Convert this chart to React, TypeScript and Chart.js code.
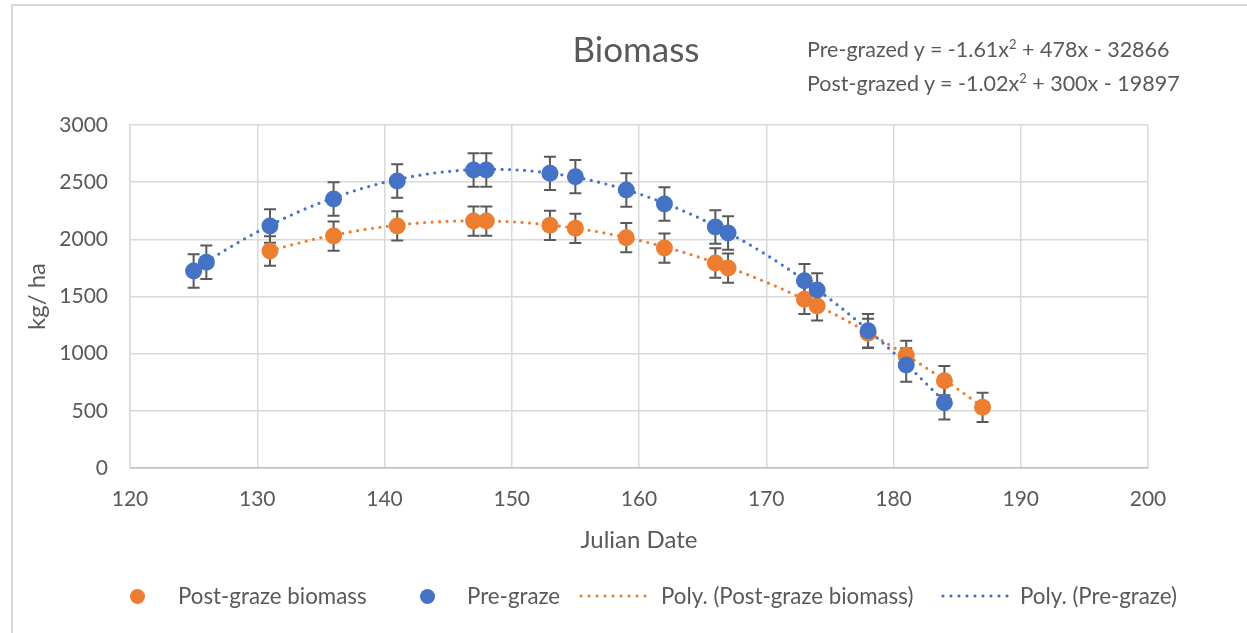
import { useEffect, useRef } from 'react';
import { Chart, registerables } from 'chart.js';
Chart.register(...registerables);

const preDates = [125, 126, 131, 136, 141, 147, 148, 153, 155, 159, 162, 166, 167, 173, 174, 178, 181, 184];
const preBiomass = [1723, 1799, 2117, 2353, 2510, 2606, 2606, 2577, 2548, 2431, 2309, 2108, 2055, 1638, 1557, 1201, 901, 571];
const preError = [146, 146, 146, 146, 146, 146, 146, 146, 146, 146, 146, 146, 146, 146, 146, 146, 146, 146];

const postDates = [131, 136, 141, 147, 148, 153, 155, 159, 162, 166, 167, 173, 174, 178, 181, 184, 187];
const postBiomass = [1898, 2029, 2117, 2160, 2160, 2123, 2096, 2014, 1924, 1793, 1749, 1475, 1417, 1178, 986, 764, 531];
const postError = [128, 128, 128, 128, 128, 128, 128, 128, 128, 128, 128, 128, 128, 128, 128, 128, 128];

// trendline coefficients as printed on the chart: a*x^2 + b*x + c
const preCoef = [-1.61, 478, -32866];
const postCoef = [-1.02, 300, -19897];

const xMin = 120, xMax = 200, xStep = 10;
const yMin = 0, yMax = 3000, yStep = 500;

const BLUE = '#4472C4';
const ORANGE = '#ED7D31';
const TEXT = '#595959';
const FONT = 'Lato, "Open Sans", sans-serif';

function trend(coef: number[], from: number, to: number) {
  const pts: { x: number; y: number }[] = [];
  for (let x = from; x <= to + 1e-9; x += 0.25) {
    pts.push({ x, y: coef[0] * x * x + coef[1] * x + coef[2] });
  }
  return pts;
}

const errorBarPlugin = {
  id: 'errorBars',
  beforeDatasetsDraw(chart: any) {
    const { ctx, scales } = chart;
    const xs = scales.x, ys = scales.y;
    ctx.save();
    ctx.strokeStyle = '#595959';
    ctx.lineWidth = 2;
    const groups: [number[], number[], number[]][] = [
      [postDates, postBiomass, postError],
      [preDates, preBiomass, preError],
    ];
    groups.forEach(([d, v, e]) => {
      d.forEach((dx, i) => {
        const px = xs.getPixelForValue(dx);
        const top = ys.getPixelForValue(v[i] + e[i]);
        const bot = ys.getPixelForValue(v[i] - e[i]);
        ctx.beginPath();
        ctx.moveTo(px, top);
        ctx.lineTo(px, bot);
        ctx.moveTo(px - 6, top);
        ctx.lineTo(px + 6, top);
        ctx.moveTo(px - 6, bot);
        ctx.lineTo(px + 6, bot);
        ctx.stroke();
      });
    });
    ctx.restore();
  },
};

function DotLine({ color }: { color: string }) {
  return (
    <svg width="78" height="10" style={{ display: 'block' }}>
      <line x1="3" y1="5" x2="75" y2="5" stroke={color} strokeWidth="3.2" strokeLinecap="round" strokeDasharray="0 8" />
    </svg>
  );
}

export default function App() {
  const ref = useRef<HTMLCanvasElement | null>(null);

  useEffect(() => {
    if (!ref.current) return;
    const chart = new Chart(ref.current, {
      type: 'scatter',
      data: {
        datasets: [
          {
            label: 'Pre-graze',
            data: preDates.map((x, i) => ({ x, y: preBiomass[i] })),
            backgroundColor: BLUE,
            borderColor: BLUE,
            pointRadius: 8.5,
            pointBorderWidth: 0,
            order: 1,
          },
          {
            label: 'Post-graze biomass',
            data: postDates.map((x, i) => ({ x, y: postBiomass[i] })),
            backgroundColor: ORANGE,
            borderColor: ORANGE,
            pointRadius: 8.5,
            pointBorderWidth: 0,
            order: 2,
          },
          {
            label: 'Poly. (Pre-graze)',
            data: trend(preCoef, preDates[0], preDates[preDates.length - 1]),
            showLine: true,
            borderColor: BLUE,
            borderWidth: 3.2,
            borderDash: [0, 7.5],
            borderCapStyle: 'round',
            pointRadius: 0,
            order: 3,
          },
          {
            label: 'Poly. (Post-graze biomass)',
            data: trend(postCoef, postDates[0], postDates[postDates.length - 1]),
            showLine: true,
            borderColor: ORANGE,
            borderWidth: 3.2,
            borderDash: [0, 7.5],
            borderCapStyle: 'round',
            pointRadius: 0,
            order: 4,
          },
        ],
      },
      options: {
        animation: false,
        responsive: true,
        maintainAspectRatio: false,
        layout: { padding: { left: 12, right: 99, top: 125, bottom: 75 } },
        plugins: { legend: { display: false }, tooltip: { enabled: false }, title: { display: false } },
        scales: {
          x: {
            type: 'linear',
            min: xMin,
            max: xMax,
            afterFit: (s: any) => { s.height = 90; },
            ticks: { stepSize: xStep, color: TEXT, font: { family: FONT, size: 21 }, padding: 19, callback: (v: any) => String(v) },
            grid: { color: '#d9d9d9', lineWidth: 1.5, drawTicks: false },
            border: { color: '#bfbfbf', width: 1.5 },
            title: { display: true, text: 'Julian Date', color: TEXT, font: { family: FONT, size: 24 }, padding: { bottom: 3, top: 0 } },
          },
          y: {
            type: 'linear',
            min: yMin,
            max: yMax,
            afterFit: (s: any) => { s.width = 118; },
            ticks: { stepSize: yStep, color: TEXT, font: { family: FONT, size: 21 }, padding: 22, callback: (v: any) => String(v) },
            grid: { color: '#d9d9d9', lineWidth: 1.5, drawTicks: false },
            border: { color: '#d9d9d9', width: 1.5 },
            title: { display: true, text: 'kg/ ha', color: TEXT, font: { family: FONT, size: 24 }, padding: { top: 11, bottom: 0 } },
          },
        },
      },
      plugins: [errorBarPlugin],
    } as any);
    return () => chart.destroy();
  }, []);

  const textStyle = { position: 'absolute' as const, color: TEXT, fontFamily: FONT, whiteSpace: 'nowrap' as const };

  return (
    <div style={{ position: 'fixed', left: 0, top: 0, width: 1247, height: 633, background: '#fff', overflow: 'hidden' }}>
      <div style={{ position: 'absolute', left: 11, top: 4, width: 1400, height: 800, border: '2px solid #d9d9d9' }} />
      <div style={{ position: 'absolute', left: 0, top: 0, width: 1247, height: 633 }}>
        <canvas ref={ref} />
      </div>
      <div style={{ ...textStyle, left: 536, width: 200, textAlign: 'center', top: 27, fontSize: 35, lineHeight: '42px' }}>Biomass</div>
      <div style={{ ...textStyle, left: 807, top: 36, fontSize: 21.5, lineHeight: '26px' }}>
        Pre-grazed y = -1.61x<sup style={{ fontSize: 13, verticalAlign: 8, lineHeight: 0 }}>2</sup> + 478x - 32866
      </div>
      <div style={{ ...textStyle, left: 807, top: 70, fontSize: 21.5, lineHeight: '26px' }}>
        Post-grazed y = -1.02x<sup style={{ fontSize: 13, verticalAlign: 8, lineHeight: 0 }}>2</sup> + 300x - 19897
      </div>
      {/* legend */}
      <div style={{ position: 'absolute', left: 130, top: 589, width: 15, height: 15, borderRadius: '50%', background: ORANGE }} />
      <div style={{ ...textStyle, left: 178, top: 583, fontSize: 22.3, lineHeight: '26px' }}>Post-graze biomass</div>
      <div style={{ position: 'absolute', left: 420, top: 589, width: 15, height: 15, borderRadius: '50%', background: BLUE }} />
      <div style={{ ...textStyle, left: 467, top: 583, fontSize: 22.3, lineHeight: '26px' }}>Pre-graze</div>
      <div style={{ position: 'absolute', left: 578, top: 591 }}><DotLine color={ORANGE} /></div>
      <div style={{ ...textStyle, left: 661, top: 583, fontSize: 22.3, lineHeight: '26px' }}>Poly. (Post-graze biomass)</div>
      <div style={{ position: 'absolute', left: 940, top: 591 }}><DotLine color={BLUE} /></div>
      <div style={{ ...textStyle, left: 1020, top: 583, fontSize: 22.3, lineHeight: '26px' }}>Poly. (Pre-graze)</div>
    </div>
  );
}
